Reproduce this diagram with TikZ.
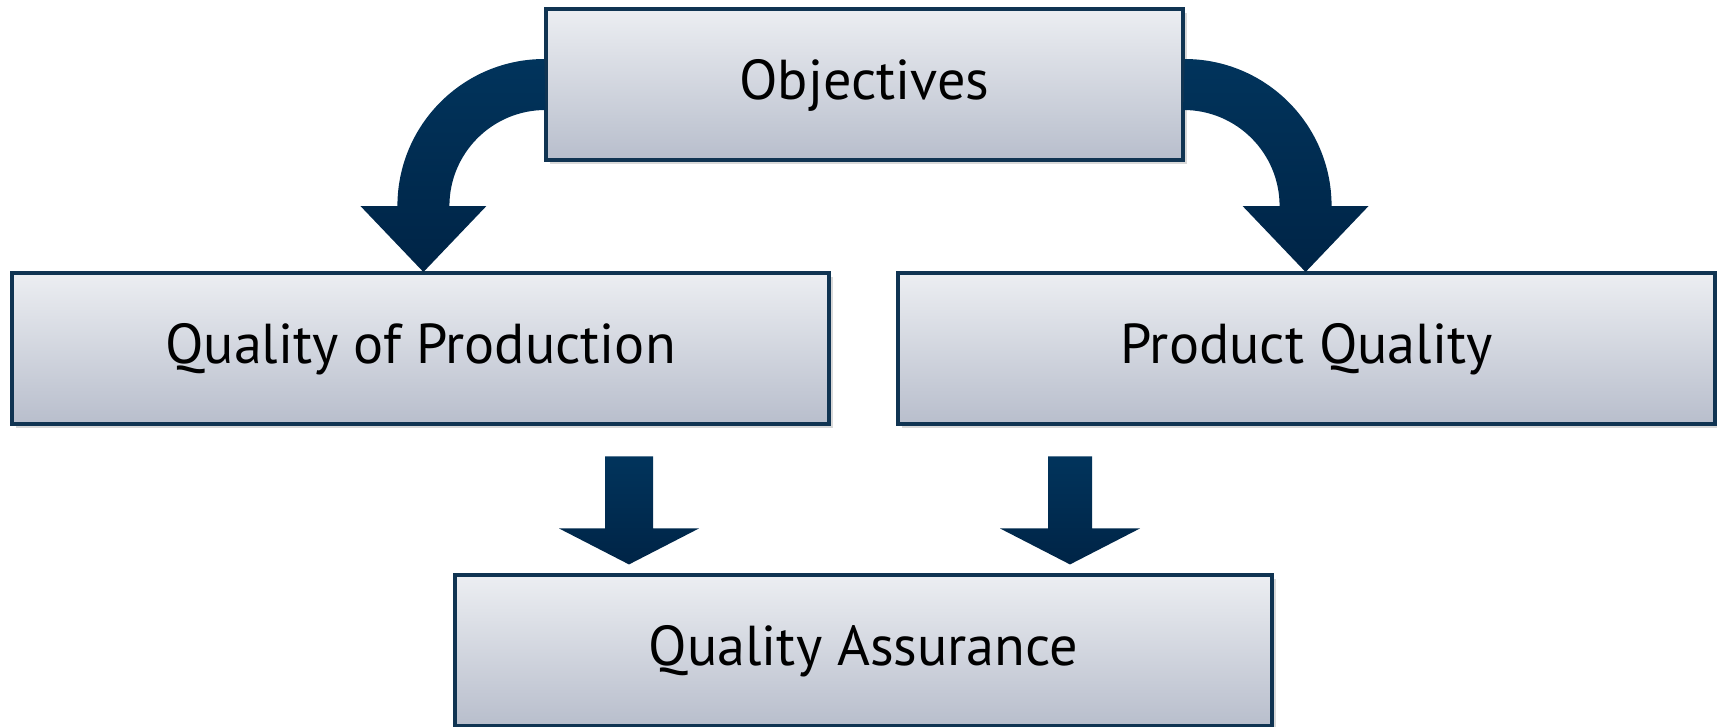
\documentclass[tikz,border=0pt]{standalone}
\usepackage{fontspec}
\setmainfont{PT Sans}
\usetikzlibrary{calc, shadows}

\definecolor{boxtop}{RGB}{236,238,242}
\definecolor{boxbottom}{RGB}{184,190,204}
\definecolor{boxline}{RGB}{16,52,82}
\definecolor{navytop}{RGB}{1,52,92}
\definecolor{navybottom}{RGB}{0,36,70}

\begin{document}
\begin{tikzpicture}[
    stagebox/.style={draw=boxline, line width=0.9pt, top color=boxtop, bottom color=boxbottom,
      minimum width=8.17cm, minimum height=1.51cm, inner sep=0pt,
      font=\fontsize{16}{19}\selectfont, text height=1.75ex, text depth=0pt,
      drop shadow={opacity=0.3, shadow xshift=0.04cm, shadow yshift=-0.04cm}},
    fatarrow/.style={top color=navytop, bottom color=navybottom, draw=none}
  ]
  \useasboundingbox (0,0) rectangle (17.17,7.26);

  % Boxes
  \node[stagebox, minimum width=6.37cm] (obj) at (8.645,6.415) {Objectives};
  \node[stagebox] (qop) at (4.205,3.775) {Quality of Production};
  \node[stagebox] (pq) at (13.065,3.775) {Product Quality};
  \node[stagebox] (qa) at (8.635,0.755) {Quality Assurance};

  % Curved arrows from Objectives
  \path[fatarrow] ($(obj.west)+(0,0.255)$) arc[start angle=90, end angle=180, radius=1.47]
    -- ++(-0.37,0) -- ++(0.63,-0.66) -- ++(0.63,0.66) -- ++(-0.37,0)
    arc[start angle=180, end angle=90, radius=0.96] -- cycle;
  \path[fatarrow] ($(obj.east)+(0,0.255)$) arc[start angle=90, end angle=0, radius=1.47]
    -- ++(0.37,0) -- ++(-0.63,-0.66) -- ++(-0.63,0.66) -- ++(0.37,0)
    arc[start angle=0, end angle=90, radius=0.96] -- cycle;

  % Straight arrows to Quality Assurance
  \path[fatarrow] ($(qa.north)+(-2.585,1.17)$) -- ++(0.48,0) -- ++(0,-0.72) -- ++(0.46,0)
    -- ++(-0.70,-0.36) -- ++(-0.70,0.36) -- ++(0.46,0) -- cycle;
  \path[fatarrow] ($(qa.north)+(1.845,1.17)$) -- ++(0.44,0) -- ++(0,-0.72) -- ++(0.48,0)
    -- ++(-0.70,-0.36) -- ++(-0.70,0.36) -- ++(0.48,0) -- cycle;
\end{tikzpicture}
\end{document}
